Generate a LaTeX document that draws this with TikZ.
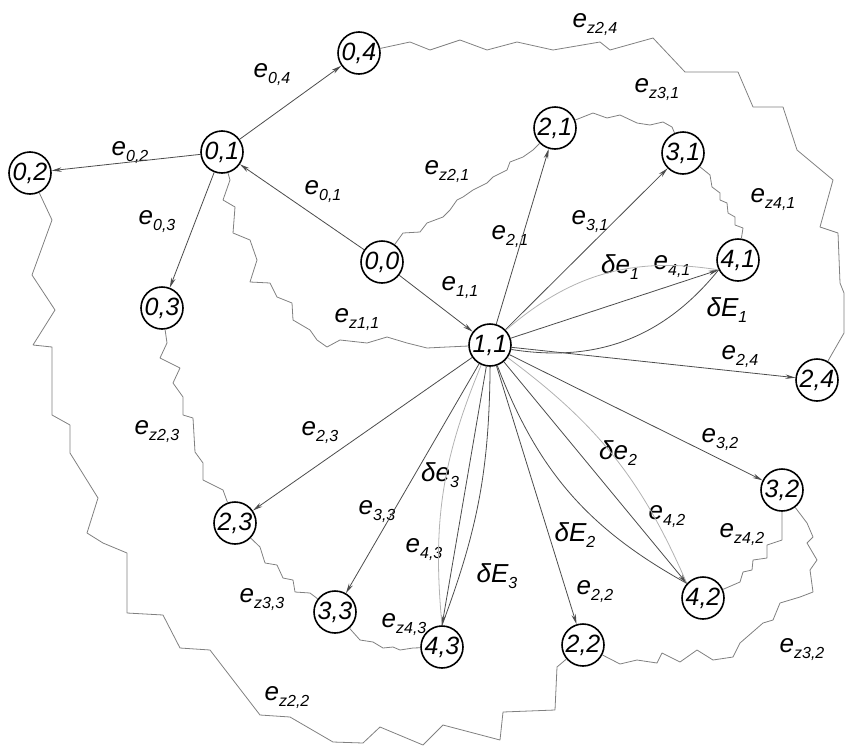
\documentclass[tikz,border=0pt]{standalone}
\usepackage{fontspec}
\setmainfont{Liberation Sans}
\usetikzlibrary{arrows.meta}
\newcommand{\ee}[2]{#1\raisebox{-6pt}{\fontsize{16}{16}\selectfont #2}}

\begin{document}
\begin{tikzpicture}[x=1pt,y=-1pt,
  font=\fontsize{26}{30}\selectfont\itshape,
  vtx/.style={draw,circle,line width=1.6pt,minimum size=42pt,inner sep=0pt,font=\fontsize{25}{28}\selectfont\itshape},
  arc/.style={-{Stealth[length=10pt,width=4.5pt]},line width=0.8pt,draw=black!70},
  crv/.style={line width=0.8pt,draw=black!70},
  faint/.style={line width=0.8pt,draw=black!30},
  zig/.style={line width=0.8pt,draw=black!50,line join=bevel},
]
  \useasboundingbox (0,0) rectangle (845,747);

  \foreach \a/\b/\x/\y in {0/0/382/262,0/1/222/152,0/2/30/173,0/3/162/308,0/4/359/53,
      1/1/490/345,2/1/555/128,3/1/683/153,4/1/738/260,2/4/817/380,
      2/3/235/523,3/3/335/612,4/3/442/647,2/2/583/645,4/2/703/598,3/2/782/490} {
    \node[vtx] (v\a\b) at (\x,\y) {\a,\b};
  }

  \foreach \x/\y/\t [count=\k] in {272/75/{\ee{e}{0,4}},130/153/{\ee{e}{0,2}},157/222/{\ee{e}{0,3}},
      323/192/{\ee{e}{0,1}},357/320/{\ee{e}{z1,1}},447/172/{\ee{e}{z2,1}},460/288/{\ee{e}{1,1}},
      510/237/{\ee{e}{2,1}},590/222/{\ee{e}{3,1}},620/267/{\ee{δe}{1}},672/267/{\ee{e}{4,1}},
      727/310/{\ee{δE}{1}},595/25/{\ee{e}{z2,4}},657/90/{\ee{e}{z3,1}},773/200/{\ee{e}{z4,1}},
      740/357/{\ee{e}{2,4}},157/432/{\ee{e}{z2,3}},320/433/{\ee{e}{2,3}},377/512/{\ee{e}{3,3}},
      440/475/{\ee{δe}{3}},424/550/{\ee{e}{4,3}},497/576/{\ee{δE}{3}},262/600/{\ee{e}{z3,3}},
      404/625/{\ee{e}{z4,3}},287/698/{\ee{e}{z2,2}},575/535/{\ee{δE}{2}},595/592/{\ee{e}{2,2}},
      618/453/{\ee{δe}{2}},667/517/{\ee{e}{4,2}},720/440/{\ee{e}{3,2}},742/535/{\ee{e}{z4,2}},
      802/650/{\ee{e}{z3,2}}} {
    \node[inner sep=1pt] (lab\k) at (\x,\y) {\t};
  }

  \draw[arc] (v00) -- (v01);
  \draw[arc] (v01) -- (v02);
  \draw[arc] (v01) -- (v03);
  \draw[arc] (v01) -- (v04);
  \draw[arc] (v00) -- (v11);
  \draw[arc] (v11) -- (v21);
  \draw[arc] (v11) -- (v31);
  \draw[arc] (v11) -- (v24);
  \draw[arc] (v11) -- (v32);
  \draw[arc] (v11) -- (v22);
  \draw[arc] (v11) -- (v33);
  \draw[arc] (v11) -- (v23);

  \draw[arc] (v11) -- (v41.207);
  \draw[faint] (v11) to[bend left=25] (v41.207);
  \draw[crv] (v11) to[bend right=30] (v41.207);
  \draw[arc] (v11) -- (v42.138);
  \draw[faint] (v11) to[bend left=15] (v42.138);
  \draw[crv] (v11) to[bend right=20] (v42.138);
  \draw[arc] (v11) -- (v43.north);
  \draw[faint] (v11) to[bend right=14] (v43.north);
  \draw[crv] (v11) to[bend left=10] (v43.north);

  \draw[zig] (v01) -- (230,180) -- (223,200) -- (235,207) -- (233,233) -- (250,240) -- (257,260)
    -- (250,282) -- (270,283) -- (277,297) -- (292,303) -- (293,320) -- (310,330) -- (317,340)
    -- (327,347) -- (340,340) -- (367,343) -- (387,337) -- (407,343) -- (427,348) -- (447,347) -- (v11);
  \draw[zig] (v00) -- (403,233) -- (420,232) -- (427,223) -- (443,217) -- (450,210) -- (457,200)
    -- (463,197) -- (473,190) -- (487,183) -- (493,177) -- (507,170) -- (510,162) -- (523,157)
    -- (533,150) -- (v21);
  \draw[zig] (v04) -- (410,42) -- (430,50) -- (460,40) -- (487,50) -- (517,42) -- (553,50)
    -- (600,42) -- (610,50) -- (653,38) -- (685,72) -- (738,72) -- (753,107) -- (783,107)
    -- (797,150) -- (833,180) -- (820,227) -- (838,233) -- (840,283) -- (844,293) -- (844,333) -- (v24);
  \draw[zig] (v21) -- (593,113) -- (607,118) -- (620,115) -- (637,123) -- (650,125) -- (663,122)
    -- (672,127) -- (v31);
  \draw[zig] (v31) -- (710,175) -- (712,187) -- (720,193) -- (720,200) -- (727,203) -- (728,213)
    -- (735,217) -- (735,225) -- (743,228) -- (v41);
  \draw[zig] (v03) -- (167,343) -- (160,358) -- (180,368) -- (173,383) -- (183,397) -- (183,415)
    -- (193,418) -- (195,452) -- (203,463) -- (203,480) -- (223,490) -- (v23);
  \draw[zig] (v23) -- (260,547) -- (265,563) -- (277,565) -- (283,578) -- (293,580) -- (295,592)
    -- (310,593) -- (v33);
  \draw[zig] (v33) -- (360,640) -- (373,642) -- (383,648) -- (393,647) -- (400,650) -- (413,648) -- (v43);
  \draw[zig] (v02) -- (52,220) -- (32,275) -- (55,310) -- (33,345) -- (52,347) -- (52,415)
    -- (70,425) -- (70,453) -- (98,498) -- (87,533) -- (103,543) -- (127,553) -- (127,613)
    -- (163,615) -- (180,648) -- (210,650) -- (260,715) -- (290,717) -- (333,742) -- (363,743)
    -- (380,727) -- (423,745) -- (443,725) -- (500,740) -- (503,712) -- (555,710) -- (557,667) -- (v22);
  \draw[zig] (v22) -- (620,664) -- (637,660) -- (657,663) -- (662,653) -- (680,662) -- (697,650)
    -- (713,660) -- (733,657) -- (740,643) -- (763,623) -- (773,620) -- (780,603) -- (800,597)
    -- (813,592) -- (810,570) -- (817,560) -- (807,543) -- (813,537) -- (807,523) -- (v32);
  \draw[zig] (v32) -- (782,540) -- (767,545) -- (767,558) -- (753,560) -- (752,570) -- (743,572)
    -- (740,582) -- (v42);
\end{tikzpicture}
\end{document}
